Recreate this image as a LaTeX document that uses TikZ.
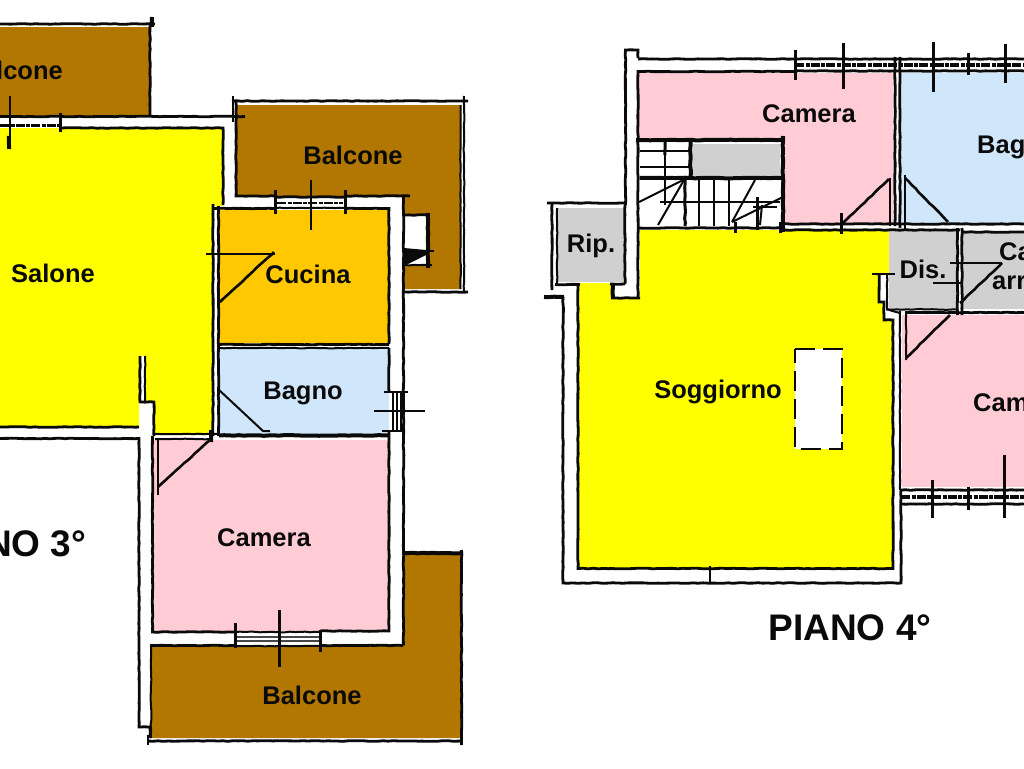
\documentclass[tikz,border=0pt]{standalone}
\usepackage{fontspec}
\usetikzlibrary{decorations.pathmorphing}
\setmainfont{Liberation Sans}
\definecolor{cbrown}{HTML}{B27700}
\definecolor{cyellow}{HTML}{FFFF00}
\definecolor{corange}{HTML}{FFC800}
\definecolor{cblue}{HTML}{CFE6FB}
\definecolor{cpink}{HTML}{FFCCD6}
\definecolor{cgray}{HTML}{D0D0D0}
\definecolor{cink}{HTML}{0A0A0A}
\pgfmathsetseed{7}
\tikzset{
  rough/.style={decorate,decoration={random steps,segment length=5pt,amplitude=0.35pt}},
  wall/.style={draw=cink,line width=2.8pt,line cap=butt,line join=miter,rough},
  thin wall/.style={draw=cink,line width=2pt,line cap=butt,rough},
  tick/.style={draw=cink,line width=3pt,line cap=butt},
  fine/.style={draw=cink,line width=2pt,line cap=butt},
  heavy/.style={draw=cink,line width=4pt,line cap=butt,rough},
  pane/.style={draw=cink!75,line width=1.6pt},
  band/.style={draw=cink,line width=3.6pt,dash pattern=on 9pt off 1.5pt on 4pt off 1pt},
  label/.style={font=\fontsize{25.5}{28}\selectfont\bfseries,text=cink,inner sep=0pt},
  title/.style={font=\fontsize{37}{40}\selectfont\bfseries,text=cink,inner sep=0pt}
}
\begin{document}
\begin{tikzpicture}[x=1pt,y=-1pt]
\useasboundingbox (0,0) rectangle (1024,768);
\clip (0,0) rectangle (1024,768);
\fill[white] (0,0) rectangle (1024,768);

%% ---------- PIANO 3 : fills
\fill[cbrown] (0,27) -- (150,27) -- (150,116) -- (0,116) -- cycle;
\fill[cbrown] (236,105) -- (461,105) -- (461,289) -- (404,289) -- (404,196) -- (236,196) -- cycle;
\fill[cbrown] (151,646) -- (403,646) -- (403,554) -- (461,554) -- (461,738) -- (151,738) -- cycle;
\fill[cyellow] (0,128) -- (223,128) -- (223,206) -- (213,206) -- (213,435) -- (155,435) -- (155,402) -- (145,402) -- (145,356) -- (139,356) -- (139,427) -- (0,427) -- cycle;
\fill[corange] (219,210) rectangle (389,343);
\fill[cblue] (219,348) rectangle (389,434);
\fill[cpink] (153,440) rectangle (389,631);
\fill[white] (404,215) rectangle (428,265);

%% ---------- PIANO 3 : walls
\draw[wall] (0,24) -- (155,24);
\draw[wall] (150,24) -- (150,116);
\draw[heavy] (152,17) -- (152,27);
\draw[wall] (0,116.5) -- (245,116.5);
\draw[wall] (62,128) -- (223,128) -- (223,205);
\draw[band] (0,125.5) -- (60,125.5);
\draw[tick] (60,113) -- (60,132);
\draw[fine] (10,96) -- (10,148);
\draw[heavy] (9,136) -- (9,149);
%% balcony top right
\draw[wall] (232,101) -- (468,101);
\draw[fine] (233,96) -- (233,122);
\draw[wall] (236,102) -- (236,196) -- (275,196);
\draw[thin wall] (464,96) -- (464,292);
\draw[thin wall] (460.5,105) -- (460.5,289);
\draw[wall] (404,292) -- (468,292);
\draw[wall] (345,196) -- (410,196);
\draw[wall] (403.5,196) -- (403.5,645.5);
%% little shaft
\draw[heavy] (428,213) -- (428,268);
\draw[wall] (404,215) -- (428,215);
\draw[thin wall] (404,265) -- (432,265);
\fill[cink] (404,248) -- (426,250) -- (426,255) -- (408,264) -- (404,264) -- cycle;
\draw[fine] (418,251) -- (434,251);
%% cucina / bagno
\draw[wall] (213,208.5) -- (275,208.5);
\draw[wall] (345,208.5) -- (389,208.5) -- (389,344);
\draw[wall] (275,197) -- (345,197);
\draw[thin wall] (275,208) -- (345,208);
\draw[band,line width=2pt] (277,203) -- (343,203);
\draw[tick] (275,190) -- (275,214);
\draw[tick] (345,190) -- (345,214);
\draw[fine] (311,180) -- (311,230);
\draw[wall] (213,204) -- (213,436);
\draw[wall] (218.5,206) -- (218.5,436);
\draw[wall] (219,344.5) -- (389,344.5);
\draw[thin wall] (219,348) -- (389,348);
\draw[fine] (206,254) -- (275,254);
\draw[thin wall,line width=2.6pt] (220,302) -- (274,252);
\draw[fine] (218,389) -- (263,431) -- (270,431);
\draw[wall] (389,348) -- (389,391);
\draw[wall] (389,432) -- (389,631) -- (320,631);
\draw[heavy] (219,435.5) -- (389,435.5);
\draw[thin wall] (153,434) -- (219,434);
\draw[thin wall] (155,439) -- (211,439);
%% bagno window
\draw[fine] (393,391) -- (393,432);
\draw[fine] (397,391) -- (397,432);
\draw[fine] (401,391) -- (401,432);
\draw[fine] (384,392) -- (408,392);
\draw[fine] (374,411) -- (425,411);
\draw[fine] (382,431) -- (404,431);
%% left of camera
\draw[wall] (0,427) -- (139,427);
\draw[wall] (0,438.5) -- (139,438.5) -- (139,727) -- (150,727) -- (150,738);
\draw[wall] (140,356) -- (140,403);
\draw[thin wall] (145,356) -- (145,403);
\draw[wall] (140,402) -- (155,402);
\draw[wall] (154,402) -- (154,436);
\draw[wall] (152.5,436) -- (152.5,632) -- (235,632);
\draw[fine] (158,438) -- (158,495);
\draw[thin wall,line width=2.6pt] (158,487) -- (210,440);
\draw[heavy] (211,430) -- (211,442);
%% lower balcony
\draw[wall] (148,741) -- (462,741);
\draw[fine] (148,735) -- (148,745);
\draw[wall] (461.5,550) -- (461.5,745);
\draw[heavy] (403,553) -- (463,553);
\draw[wall] (320,645.5) -- (403,645.5);
\draw[wall] (150,645.5) -- (235,645.5);
\draw[thin wall] (151,645) -- (151,738);
\draw[thin wall] (235,632) -- (320,632);
\draw[thin wall] (235,646) -- (320,646);
\draw[pane] (235,637) -- (319,637);
\draw[pane] (235,641) -- (319,641);
\draw[tick] (235.5,623) -- (235.5,648);
\draw[tick] (320,630) -- (320,652);
\draw[tick] (279,610) -- (279,667);

%% ---------- PIANO 4 : fills
\fill[cpink] (638,73) -- (893,73) -- (893,225) -- (785,225) -- (785,138) -- (638,138) -- cycle;
\fill[cblue] (901,73) -- (1024,73) -- (1024,224) -- (901,224) -- cycle;
\fill[cyellow] (640,230) -- (889,230) -- (889,274) -- (878,274) -- (878,302) -- (883,302) -- (883,320) -- (893,320) -- (893,568) -- (578,568) -- (578,283) -- (611,283) -- (611,297) -- (640,297) -- cycle;
\fill[cgray] (889,231) rectangle (957,309);
\fill[cgray] (962,232) rectangle (1024,309);
\fill[cgray] (557,208) rectangle (625,282);
\fill[cgray] (693,144) rectangle (780,176);
\fill[cpink] (902,315) rectangle (1024,487);
\fill[white] (795,349) rectangle (842,449);
\draw[draw=cink,line width=2.6pt,dash pattern=on 20pt off 8pt] (795,349) -- (842,349) -- (842,449) -- (795,449) -- cycle;

%% ---------- PIANO 4 : walls
\draw[wall] (625.5,205) -- (625.5,50) -- (638,50) -- (638,58);
\draw[wall] (638,59) -- (795,59);
\draw[wall] (638,298) -- (638,71.5) -- (795,71.5);
\draw[wall] (611,298) -- (640,298);
\draw[heavy] (613,284) -- (613,298);
\draw[wall] (610,284) -- (625,284);
%% rip.
\draw[wall] (547,203) -- (625,203);
\draw[wall] (552,203) -- (552,290);
\draw[thin wall] (557,208) -- (557,284);
\draw[wall] (625,205) -- (625,284);
\draw[wall] (555,284.5) -- (580,284.5);
\draw[heavy] (544,297) -- (564,297);
%% soggiorno outline
\draw[wall] (563,297) -- (563,583) -- (901,583) -- (901,490);
\draw[wall] (578,284) -- (578,568.5) -- (893,568.5) -- (893,320) -- (884,320) -- (884,302) -- (879,302) -- (879,274);
\draw[fine] (872,273.5) -- (895,273.5);
\draw[thin wall] (887,275) -- (887,309.5) -- (957,309.5);
\draw[thin wall] (887,309) -- (900,313);
\draw[fine] (710,566) -- (710,583);
%% top window
\draw[wall] (795,59) -- (1024,59);
\draw[wall] (795,71) -- (1024,71);
\draw[band] (795,65) -- (1024,65);
\draw[tick] (795,50) -- (795,80);
\draw[tick] (843,43) -- (843,89);
\draw[tick] (933,42) -- (933,92);
\draw[tick] (968,53) -- (968,75);
\draw[tick] (1005,44) -- (1005,83);
\draw[wall] (895,57) -- (895,226);
\draw[wall] (900,57) -- (900,228);
%% doors top
\draw[fine] (890,178) -- (890,226);
\draw[thin wall,line width=2.6pt] (843,223) -- (889,179);
\draw[tick] (841,213) -- (841,234);
\draw[fine] (905,175) -- (905,230);
\draw[thin wall,line width=2.6pt] (905,178) -- (948,222);
%% wall under upper rooms
\draw[wall] (782,224) -- (1024,224);
\draw[wall] (785,230) -- (960,230);
\draw[wall] (638,228) -- (785,228);
\draw[wall] (957.5,228) -- (957.5,315);
\draw[wall] (962,228) -- (962,315);
\draw[wall] (961,232) -- (1024,232);
\draw[wall] (906,312.5) -- (1024,312.5);
\draw[fine] (950,263) -- (1002,263);
\draw[fine] (933,283) -- (962,283);
\draw[thin wall,line width=2.6pt] (960,303) -- (1002,263);
%% lower camera door
\draw[thin wall] (900,311) -- (900,490);
\draw[thin wall] (906,311) -- (906,360);
\draw[thin wall,line width=2.6pt] (906,358) -- (950,315);
%% stairs
\draw[heavy] (636,140) -- (785,140);
\draw[heavy] (783,136) -- (783,232);
\draw[heavy] (690.5,140) -- (690.5,178);
\draw[heavy] (640,178) -- (782,178);
\draw[fine] (640,151) -- (690,151);
\draw[fine] (640,167) -- (690,167);
\draw[fine] (665,142) -- (665,205);
\draw[heavy,line width=3pt] (665,142) -- (665,155);
\draw[fine] (660,202) -- (780,202);
\draw[thin wall,line width=3pt] (685,178) -- (685,226);
\draw[fine] (699,178) -- (699,226);
\draw[fine] (714,178) -- (714,226);
\draw[fine] (729,178) -- (729,226);
\draw[tick] (757,197) -- (757,230);
\draw[fine] (639,202) -- (683,180);
\draw[fine] (658,225) -- (684,180);
\draw[fine] (732,222) -- (755,180);
\draw[fine] (732,222) -- (783,197);
\draw[fine] (753,207) -- (777,207);
\draw[fine] (762,205) -- (760,225);
\draw[tick] (735,222) -- (735,233);
\draw[tick] (780,222) -- (780,233);
%% lower window
\draw[wall] (901,490) -- (1024,490);
\draw[band] (901,497) -- (1024,497);
\draw[wall] (901,504) -- (1024,504);
\draw[tick] (932,480) -- (932,518);
\draw[tick] (968,487) -- (968,510);
\draw[tick] (1004,455) -- (1004,518);

%% ---------- labels
\node[label,anchor=east] (balconeA) at (63,70) {lcone};
\node[label] (balconeB) at (353,155.5) {Balcone};
\node[label] (salone) at (53,273) {Salone};
\node[label] (cucina) at (308,274) {Cucina};
\node[label] (bagnoA) at (303,393) {Bagno};
\node[label] (cameraA) at (264,538) {Camera};
\node[label] (balconeC) at (312,695) {Balcone};
\node[title,anchor=east] (pianoA) at (86.5,544) {NO 3°};
\node[label] (cameraB) at (809,114) {Camera};
\node[label,anchor=west] (bagnoB) at (977,147) {Bag};
\node[label] (rip) at (591,246) {Rip.};
\node[label] (dis) at (923,269) {Dis.};
\node[label,anchor=west] (caA) at (999,252) {Ca};
\node[label,anchor=west] (caB) at (992,283) {arr};
\node[label] (soggiorno) at (718,392) {Soggiorno};
\node[label,anchor=west] (cameraC) at (973,403) {Cam};
\node[title] (pianoB) at (850,628) {PIANO 4°};
\end{tikzpicture}
\end{document}
